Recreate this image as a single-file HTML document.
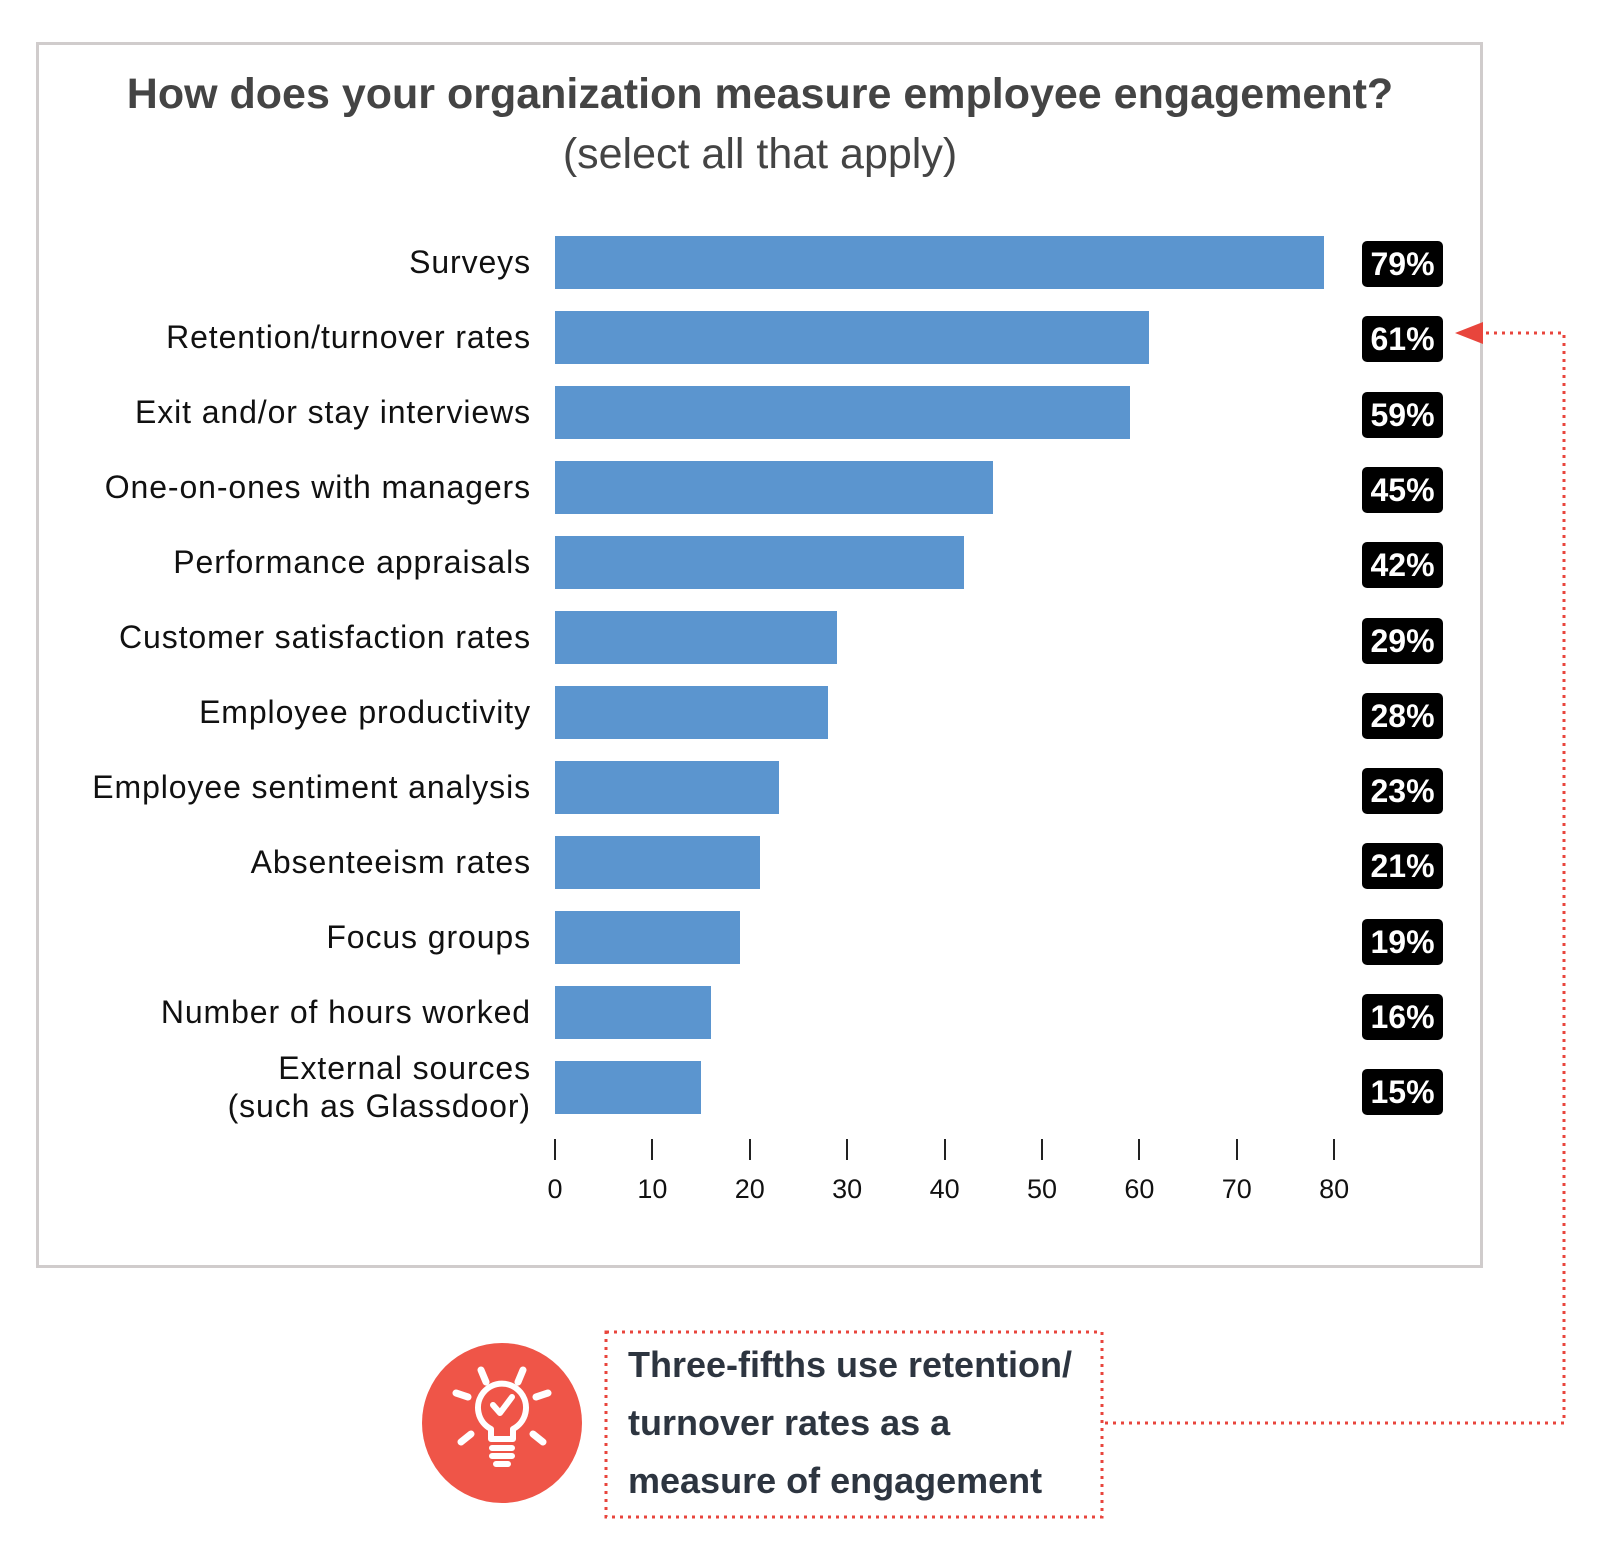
<!DOCTYPE html>
<html><head><style>
body{margin:0;background:#fff;width:1601px;height:1563px;position:relative;overflow:hidden;font-family:"Liberation Sans",sans-serif}
.a{position:absolute}
.lbl{position:absolute;right:1070px;font-size:32px;letter-spacing:0.9px;color:#111;text-align:right;white-space:nowrap;line-height:38px}
.bar{position:absolute;left:555px;height:53px;background:#5b95cf}
.bd{position:absolute;left:1362px;width:81px;height:46px;background:#000;border-radius:5px;color:#fff;font-weight:bold;font-size:32px;text-align:center;line-height:47px}
.tk{position:absolute;top:1139px;width:2px;height:21px;background:#222}
.tl{position:absolute;top:1174px;width:60px;margin-left:-30px;text-align:center;font-size:27px;color:#111}
</style></head><body>
<div class="a" style="left:36px;top:42px;width:1441px;height:1220px;border:3px solid #d0cccc"></div>
<div class="a" style="left:37px;width:1446px;top:70px;text-align:center;font-size:43px;font-weight:bold;color:#444">How does your organization measure employee engagement?</div>
<div class="a" style="left:37px;width:1446px;top:130px;text-align:center;font-size:43px;color:#444">(select all that apply)</div>
<div id="c"></div>
<svg class="a" style="left:0;top:0" width="1601" height="1563">
<path d="M1470 333 H1564 V1423 H1102" fill="none" stroke="#e8453c" stroke-width="3" stroke-dasharray="3 5"/>
<polygon points="1455,333 1483,322 1483,344" fill="#e8453c"/>
<rect x="606" y="1332" width="496" height="185" fill="none" stroke="#e8453c" stroke-width="3" stroke-dasharray="3 5"/>
<circle cx="502" cy="1423" r="80" fill="#ef5548"/>
<g stroke="#fff" stroke-linecap="round" stroke-linejoin="round" fill="none">
<path d="M491 1439 v-10 a24 24 0 1 1 22 0 v10 z" stroke-width="6"/>
<path d="M492 1448 h20 M492 1456 h20 M496 1464 h12" stroke-width="6"/>
<path d="M493 1405 l7 8 l12 -16" stroke-width="6"/>
<path d="M481 1370 l5 12 M523 1370 l-5 12 M456 1393 l12 4 M548 1393 l-12 4 M461 1442 l10 -8 M543 1442 l-10 -8" stroke-width="7"/>
</g>
</svg>
<div class="a" style="left:628px;top:1336px;font-size:36px;font-weight:bold;color:#2d3540;line-height:58px">Three-fifths use retention/<br>turnover rates as a<br>measure of engagement</div>
<script>
var d=[["Surveys",79],["Retention/turnover rates",61],["Exit and/or stay interviews",59],["One-on-ones with managers",45],["Performance appraisals",42],["Customer satisfaction rates",29],["Employee productivity",28],["Employee sentiment analysis",23],["Absenteeism rates",21],["Focus groups",19],["Number of hours worked",16],["External sources<br>(such as Glassdoor)",15]];
var h="";
d.forEach(function(r,i){var t=236+i*75;
h+='<div class="bar" style="top:'+t+'px;width:'+(r[1]*9.74)+'px"></div>';
h+='<div class="bd" style="top:'+(t+5+i*0.3)+'px">'+r[1]+'%</div>';
var two=r[0].indexOf("<br>")>0;
h+='<div class="lbl" style="top:'+(two?t-12:t+7)+'px">'+r[0]+'</div>';});
for(var k=0;k<=8;k++){var x=555+k*97.4;h+='<div class="tk" style="left:'+(x-1)+'px"></div><div class="tl" style="left:'+x+'px">'+(k*10)+'</div>';}
document.getElementById("c").innerHTML=h;
</script>
</body></html>
